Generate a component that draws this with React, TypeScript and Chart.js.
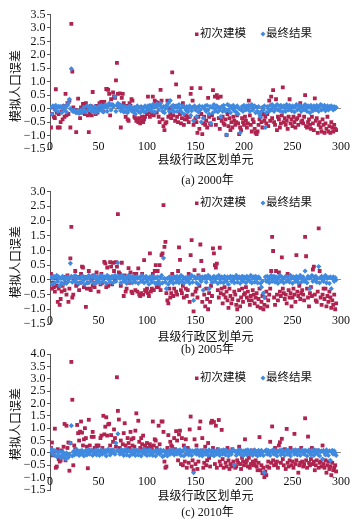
import React, { useEffect, useRef } from 'react';
import { Chart, registerables } from 'chart.js';
Chart.register(...registerables);

const xTicks = [0, 50, 100, 150, 200, 250, 300];
const seriesNames = ['初次建模', '最终结果'];
const yTitle = '模拟人口误差';
const xTitle = '县级行政区划单元';
const captions = ['(a) 2000年', '(b) 2005年', '(c) 2010年'];

// Panel (a) 2000
const initialA = [
  -0.7, -0.2, 0.05, -0.3, -0.35, 0.72, -0.15, -0.7, -0.2, -0.7,
  -0.5, -0.1, -0.4, 0.1, -0.3, 0.55, -0.25, 0.2, -0.2, 0.3,
  -0.7, 3.15, 1.38, 0.05, -0.1, -0.05, -0.87, -0.15, 0.37, -0.1,
  -0.35, 0.05, -0.15, 0.18, 0.15, -0.2, 0.2, -0.05, -0.25, -0.87,
  -0.2, 0.1, -0.25, 0.62, 0.05, -0.1, -0.2, 0.1, -0.15, 0.0,
  0.2, 0.05, 0.25, 0.2, -0.1, 0.25, 0.1, 0.73, 0.72, 0.7,
  0.55, -0.25, 0.35, 0.15, 0.6, 0.45, 0.4, 1.05, 1.7, 0.55,
  0.05, 0.57, -0.7, 0.4, 0.55, 0.2, -0.1, -0.3, 0.1, -0.4,
  -0.45, 0.2, 0.1, 0.35, 0.3, -0.1, -0.3, -0.35, -0.45, -0.4,
  -0.5, -0.35, -0.55, -0.45, -0.3, -0.5, -0.4, -0.3, 0.05, -0.2,
  0.45, -0.15, -0.3, 0.1, -0.2, 0.45, -0.25, 0.3, 0.25, -0.15,
  0.22, -0.3, -0.5, 0.7, 0.3, -0.4, -0.65, -0.8, -0.55, -0.5,
  0.3, -0.3, 0.0, -0.2, -0.35, 1.35, -0.25, 0.1, -0.45, 0.9,
  -0.3, -0.5, 0.45, -0.2, -0.55, -0.35, 0.2, -0.6, -0.4, -0.25,
  -0.4, -0.3, -0.5, -0.3, 0.55, 0.76, 0.3, -0.6, -0.45, -0.35,
  -0.5, -0.9, -0.3, -0.75, 0.76, -0.2, -0.95, -0.55, -0.3, -0.6,
  -0.45, -0.7, 0.4, -0.3, -0.55, -0.6, -0.25, 0.69, -0.4, 0.45,
  -0.6, 0.5, 0.4, -0.35, -0.75, 0.45, -0.45, -0.3, -0.55, -0.6,
  -0.4, -0.98, -0.2, -0.65, -0.35, -0.8, -0.5, -0.7, -0.3, -0.45,
  -0.6, -0.5, -0.25, -0.55, -0.95, -0.7, -0.8, -0.35, -0.5, -0.6,
  -0.3, -0.45, -0.7, -0.55, 0.3, -0.25, -0.6, -0.85, -0.4, -0.5,
  -0.75, -0.9, -0.95, -0.85, -0.6, -0.4, -0.3, -0.5, -0.7, -0.2,
  -0.45, -0.3, -0.55, -0.2, -0.65, 0.3, -0.45, 0.45, -0.35, 0.69,
  -0.5, -0.6, 0.35, -0.8, -0.3, -0.4, -0.7, -0.55, -0.25, 0.79,
  -0.5, -0.35, -0.6, -0.45, -0.75, -0.3, 0.35, -0.55, -0.4, -0.65,
  -0.3, -0.5, -0.7, -0.4, -0.35, -0.6, -0.25, 0.2, -0.5, -0.45,
  -0.55, -0.3, 0.5, -0.65, -0.7, -0.5, -0.4, -0.6, -0.75, -0.3,
  -0.55, -0.8, 0.38, -0.45, -0.35, -0.9, -0.6, -0.5, -0.7, -0.85,
  -0.4, -0.6, -0.9, -0.55, -0.75, -0.3, -0.85, -0.65, -0.9, -0.5,
  -0.7, -0.85, -0.6, -0.75, -0.8,
];
const finalA = [
  0.05, -0.2, 0.1, 0.08, -0.05, 0.12, 0.06, -0.1, 0.09, 0.05,
  0.08, -0.15, 0.02, 0.1, -0.05, 0.07, -0.12, 0.12, 0.2, 0.35,
  0.0, 1.48, -0.08, -0.1, -0.05, -0.12, -0.15, -0.08, -0.1, -0.18,
  -0.12, -0.05, -0.15, -0.1, 0.05, -0.08, -0.12, 0.1, 0.08, -0.05,
  0.05, 0.1, -0.1, 0.02, -0.05, 0.08, -0.15, -0.1, 0.05, -0.08,
  0.1, -0.05, 0.12, 0.0, -0.12, 0.08, 0.15, 0.05, -0.1, 0.1,
  0.2, 0.12, -0.05, 0.15, 0.08, 0.1, 0.45, -0.1, 0.12, 0.2,
  0.05, 0.15, -0.08, 0.1, 0.02, -0.12, 0.08, -0.1, 0.05, -0.15,
  -0.05, 0.1, 0.06, -0.08, 0.0, -0.12, 0.05, -0.2, -0.05, 0.1,
  -0.1, 0.05, -0.15, 0.08, -0.05, 0.02, -0.12, 0.1, 0.05, -0.08,
  0.1, -0.05, 0.12, 0.0, -0.1, 0.15, 0.05, -0.12, 0.08, 0.18,
  0.1, -0.05, 0.15, 0.2, 0.05, -0.1, 0.08, -0.15, 0.0, 0.12,
  0.05, 0.2, -0.1, 0.3, 0.08, -0.05, 0.12, -0.12, 0.05, 0.1,
  -0.1, 0.05, 0.15, -0.08, 0.02, -0.15, 0.1, -0.2, 0.05, -0.05,
  0.08, -0.12, 0.0, 0.1, -0.25, -0.08, 0.05, -0.45, 0.1, -0.05,
  -0.3, 0.05, -0.12, 0.1, -0.05, -0.5, 0.08, -0.35, 0.0, 0.1,
  -0.1, 0.12, -0.05, -0.2, 0.08, -0.55, 0.05, -0.15, 0.15, 0.0,
  -0.08, 0.1, -0.12, 0.05, -0.05, -0.3, 0.08, -0.1, 0.12, 0.0,
  -0.1, -0.98, 0.15, -0.05, 0.1, -0.15, 0.08, 0.0, 0.12, -0.08,
  0.05, -0.12, 0.1, -0.2, 0.0, -0.9, -0.05, 0.08, -0.1, 0.12,
  0.05, -0.05, 0.1, 0.0, 0.12, -0.1, 0.08, 0.15, -0.05, 0.02,
  0.1, -0.15, 0.05, -0.1, 0.08, -0.2, -0.3, -0.1, 0.05, -0.05,
  0.1, -0.7, -0.15, 0.08, 0.0, -0.1, 0.12, -0.05, 0.15, 0.05,
  -0.1, 0.08, 0.0, 0.15, -0.05, 0.1, -0.08, 0.12, 0.05, -0.12,
  0.1, 0.02, -0.1, 0.15, 0.05, -0.05, 0.12, 0.0, -0.08, 0.1,
  0.05, -0.12, 0.08, 0.15, -0.05, 0.1, 0.0, 0.12, -0.1, 0.05,
  0.08, -0.05, 0.15, 0.02, -0.1, 0.1, 0.05, -0.15, 0.12, 0.0,
  -0.08, 0.1, 0.05, -0.05, 0.12, 0.02, -0.1, 0.08, 0.15, -0.05,
  0.1, 0.0, 0.12, -0.08, 0.05, 0.1, -0.05, 0.08, 0.02, 0.1,
  0.05, -0.05, 0.08, 0.0, 0.05,
];

// Panel (b) 2005
const initialB = [
  0.2, -0.3, -0.1, -0.25, -0.4, 0.05, -0.2, -0.75, -0.3, -0.85,
  -0.65, -0.4, -0.2, 0.1, -0.35, -0.1, -0.5, 0.15, -0.75, -0.3,
  0.73, 1.8, -0.6, -0.5, 0.05, 0.3, -0.2, -0.15, 0.1, -0.35,
  -0.1, 0.2, 0.45, 0.42, -0.25, 0.1, -0.92, -0.3, -0.1, 0.3,
  -0.3, -0.35, 0.0, -0.2, 0.15, -0.25, -0.1, 0.25, -0.05, -0.4,
  0.1, -0.15, 0.2, -0.1, 0.05, 0.61, 0.56, -0.25, 0.42, -0.2,
  0.1, 0.6, 0.45, -0.15, 0.58, 0.3, 0.0, 0.6, 0.45, 2.23,
  0.25, 0.2, -0.2, 0.58, 0.1, -0.55, 0.15, -0.4, -0.3, 0.05,
  0.4, -0.1, 0.25, -0.4, -0.45, 0.1, 0.2, -0.35, 0.2, -0.4,
  0.39, -0.5, -0.55, -0.45, 0.2, -0.5, 0.67, -0.35, -0.4, -0.3,
  -0.45, -0.55, 0.9, -0.4, -0.3, 0.2, -0.35, 0.3, 0.5, -0.25,
  0.3, -0.25, 0.5, -0.35, 0.84, 0.9, 2.54, 1.12, 1.29, -0.45,
  -0.7, -0.8, -0.3, -0.6, -0.45, 0.2, -0.55, -0.3, 0.1, -0.4,
  -0.5, 0.3, 1.1, 0.68, -0.35, -0.45, -0.2, -0.6, 0.05, -0.3,
  -0.55, -0.35, 0.2, -0.75, 0.84, 1.35, -0.5, -1.07, 0.33, -0.4,
  -0.3, -0.6, 0.15, -0.2, 1.2, 0.64, -0.75, 0.33, -0.5, -0.9,
  -0.3, -0.65, -1.0, -0.45, -0.75, -0.2, -0.55, 1.07, 0.9, 0.5,
  0.42, 0.55, -0.35, -0.6, 1.09, -0.45, -0.3, -0.8, -0.5, -0.25,
  -0.6, -0.4, -0.7, -0.95, -0.3, -0.55, -0.8, -0.65, 0.1, -0.4,
  -0.5, -0.85, -1.0, -0.7, -0.35, -0.9, -0.6, -0.3, -0.75, -0.5,
  -0.45, -0.25, -0.6, -0.4, -0.7, -0.85, -0.55, -0.7, -0.35, -0.5,
  -0.8, -0.6, -0.45, -0.9, -0.65, -0.3, -0.95, -0.75, -0.55, -1.0,
  -0.85, -0.6, -0.4, -0.9, -0.7, -0.5, -0.3, 0.3, 1.46, 0.98,
  -0.6, -0.85, 0.3, -0.5, -0.7, 0.25, -0.4, -0.55, 0.76, -0.3,
  -0.45, -0.65, -0.5, -0.8, 0.2, -0.35, -0.6, -0.45, -0.9, -0.6,
  -0.3, -0.5, -0.75, 0.84, -0.4, -0.55, -0.2, -0.65, -0.45, -0.35,
  -0.5, -0.7, 1.46, 0.8, -0.3, -0.6, -0.9, -0.45, -0.25, -0.55,
  0.35, 0.45, -0.5, -0.7, -0.75, -0.4, 1.75, 0.3, -0.6, -0.85,
  -0.5, -0.3, -0.65, -0.3, -0.9, -0.55, -0.75, -0.4, -0.6, -0.95,
  -0.7, -0.85, -0.5, -1.0, -0.8,
];
const finalB = [
  0.1, -0.15, 0.05, 0.12, -0.1, 0.08, 0.15, -0.05, 0.1, -0.2,
  0.05, -0.1, 0.12, -0.15, 0.0, 0.08, -0.12, 0.1, -0.05, 0.05,
  0.56, 0.12, -0.08, 0.1, -0.05, 0.15, 0.02, -0.1, 0.08, -0.12,
  0.05, 0.1, -0.08, 0.12, 0.0, -0.15, 0.08, 0.05, -0.1, 0.15,
  0.1, -0.05, 0.12, 0.08, -0.12, 0.15, 0.05, -0.08, 0.1, 0.0,
  0.12, -0.1, 0.15, 0.05, -0.05, 0.1, 0.08, -0.12, 0.15, 0.02,
  0.1, -0.08, 0.05, 0.12, -0.1, 0.08, 0.15, -0.05, 0.1, 0.58,
  0.12, 0.05, -0.1, 0.15, 0.08, -0.05, 0.1, 0.0, -0.12, 0.08,
  0.15, -0.05, 0.1, 0.05, -0.1, 0.12, 0.0, -0.08, 0.1, 0.05,
  -0.12, 0.08, 0.1, -0.05, 0.15, 0.02, -0.1, 0.08, 0.12, -0.05,
  0.05, -0.15, 0.1, 0.0, -0.08, 0.12, 0.05, -0.1, 0.08, -0.12,
  0.1, -0.05, -0.15, 0.08, 0.15, -0.1, 0.74, 0.05, -0.08, -0.3,
  0.05, -0.15, 0.1, -0.05, 0.08, 0.0, -0.12, 0.1, 0.05, -0.08,
  0.12, 0.0, -0.1, 0.08, 0.15, -0.05, 0.1, -0.12, 0.05, 0.08,
  -0.05, 0.1, 0.0, -0.12, 0.08, 0.15, -0.08, -0.7, 0.1, 0.05,
  -0.1, 0.08, -0.15, 0.12, 0.0, -0.05, 0.1, -0.35, 0.05, 0.12,
  -0.08, 0.05, 0.15, -0.3, 0.1, 0.0, -0.1, 0.08, 0.12, -0.05,
  0.05, 0.1, -0.12, 0.15, 0.02, -0.08, 0.1, 0.05, -0.1, 0.12,
  0.0, -0.05, 0.1, -0.15, 0.08, 0.12, -0.05, 0.1, 0.0, -0.1,
  0.08, 0.15, -0.08, 0.05, 0.1, -0.12, 0.02, 0.12, -0.05, 0.1,
  0.05, -0.1, 0.12, 0.0, 0.08, -0.05, 0.15, -0.1, 0.05, 0.1,
  -0.08, 0.12, 0.02, -0.1, 0.1, 0.05, -0.12, -0.25, -0.05, -0.45,
  -0.6, 0.1, -0.05, 0.12, 0.0, -0.1, 0.08, 0.15, -0.05, 0.05,
  0.12, -0.08, 0.1, 0.0, -0.12, 0.08, 0.15, -0.05, 0.1, 0.02,
  -0.1, 0.08, 0.12, -0.05, 0.1, 0.0, -0.08, 0.15, 0.05, -0.12,
  0.1, 0.05, -0.05, 0.12, 0.0, -0.1, 0.08, 0.15, -0.08, 0.05,
  0.1, -0.05, 0.3, 0.02, -0.1, 0.12, 0.05, -0.3, 0.08, 0.15,
  -0.05, 0.1, 0.0, 0.12, -0.08, 0.05, 0.45, -0.1, 0.08, 0.12,
  0.0, -0.05, 0.1, 0.15, -0.1, 0.05, 0.08, -0.12, 0.1, -0.3,
  0.05, 0.1, -0.05, 0.08, 0.0,
];

// Panel (c) 2010
const initialC = [
  0.2, 0.42, -0.1, 0.05, 0.98, -0.6, -0.55, 0.15, -0.25, -0.35,
  -0.3, 0.1, -0.15, 0.25, 1.17, -0.3, 1.1, 0.2, 0.42, -0.72,
  0.4, 3.68, 2.15, -0.5, 0.3, 0.15, 0.05, 1.13, 0.8, 0.5,
  0.86, 1.27, 0.82, 0.3, 0.55, 1.0, 0.6, 0.25, -0.62, 1.34,
  0.3, 0.1, 0.65, 0.85, 0.65, 0.2, 0.15, 0.3, 0.28, 0.3,
  0.05, 0.6, 0.7, 0.2, 1.5, 0.75, 1.06, 1.44, 0.7, 1.15,
  1.18, 0.3, 0.72, 0.1, 0.45, 0.95, 0.6, 0.25, 3.06, 1.7,
  1.35, 0.2, 0.5, 0.1, 0.35, 0.8, 1.2, 0.3, 0.15, 0.6,
  0.4, 0.2, 0.85, 0.55, 0.3, 0.6, 0.25, 0.9, 1.6, 0.1,
  1.3, 0.45, 0.2, 0.6, 0.35, 0.7, 0.15, 0.3, 0.05, 0.4,
  0.2, 0.1, 0.35, 0.25, 0.15, 1.27, 0.3, 0.55, 0.5, 0.2,
  0.1, 1.1, 0.35, 0.05, 1.27, 1.27, 0.85, -0.35, -0.6, -0.55,
  0.2, 0.72, 0.1, 0.45, 0.3, 0.25, 0.05, 0.6, 0.15, 0.88,
  0.5, -0.3, 0.75, 0.9, -0.45, 0.6, -0.5, 0.3, -0.35, 0.55,
  -0.6, 0.2, -0.4, 0.95, 1.47, -0.55, -0.3, -0.7, 0.55, -0.45,
  0.3, -0.65, -0.35, 1.0, 1.27, 0.1, 0.6, -0.6, -0.4, 0.25,
  -0.5, -0.3, 0.4, -0.2, -0.55, 1.22, 1.3, 0.2, 1.25, -0.45,
  1.1, -0.6, 0.15, 1.33, -0.35, -0.5, 0.93, -0.25, -0.6, 0.1,
  -0.4, -0.55, 0.2, -0.3, -0.65, -0.45, -0.55, 0.15, -0.35, -0.5,
  -0.6, -0.55, -0.3, -0.4, 0.25, -0.45, -0.65, -0.2, -0.35, -0.5,
  0.55, -0.4, -0.3, -0.55, -0.2, -0.6, -0.45, 0.1, -0.35, -0.5,
  -0.45, -0.3, -0.55, -0.7, -0.4, 0.64, -0.7, -0.5, -0.82, -0.6,
  -0.98, -0.75, -0.9, -0.55, -0.35, -0.6, 0.45, -0.4, 1.07, -0.3,
  -0.5, 0.2, -0.45, -0.35, -0.6, 0.3, 0.43, -0.4, 0.57, -0.25,
  -0.5, 0.15, -0.65, 0.97, -0.4, -0.55, -0.3, 0.2, -0.5, -0.35,
  -0.6, 0.77, -0.45, -0.3, 0.1, -0.8, -0.5, -0.4, 0.2, -0.35,
  -0.55, -0.45, 1.4, -0.3, -0.6, 0.66, -0.4, -0.5, -0.25, 0.2,
  -0.45, -0.35, -0.7, -0.5, -0.3, 0.1, -0.6, -0.4, -0.35, -0.55,
  0.3, -0.45, -0.6, -0.3, -0.8, -0.5, -0.35, -0.65, -0.55, -0.9,
  -0.4, -0.7, -0.6, -0.5, -0.75,
];
const finalC = [
  0.15, 0.05, -0.05, 0.1, -0.1, 0.08, -0.15, 0.02, -0.12, 0.05,
  -0.2, -0.1, 0.05, -0.15, -0.05, -0.25, 0.0, -0.1, -0.18, -0.05,
  0.39, 1.1, -0.12, 0.05, -0.08, 0.1, -0.05, 0.12, 0.0, -0.1,
  0.08, -0.05, 0.1, 0.02, -0.12, 0.05, 0.1, -0.08, 0.0, 0.12,
  -0.05, 0.08, 0.1, -0.1, 0.05, 0.0, 0.12, -0.08, 0.05, 0.1,
  -0.1, 0.05, 0.12, -0.05, 0.08, 0.0, 0.1, -0.12, 0.05, 0.15,
  0.05, -0.08, 0.1, 0.02, 0.12, 0.0, -0.05, 0.4, 0.1, 0.77,
  0.08, -0.05, 0.12, 0.0, 0.1, -0.1, 0.05, 0.15, -0.08, 0.05,
  0.1, -0.12, 0.05, 0.08, -0.05, 0.12, 0.0, -0.1, 0.1, 0.05,
  -0.08, 0.1, 0.05, -0.12, 0.08, 0.0, 0.12, -0.05, 0.1, -0.1,
  0.05, 0.12, -0.08, 0.1, 0.0, -0.1, 0.08, 0.05, -0.12, 0.1,
  0.0, 0.08, -0.05, 0.12, 0.05, -0.15, 0.1, -0.1, 0.05, 0.0,
  -0.12, 0.08, 0.05, -0.05, 0.1, 0.0, 0.12, -0.08, 0.05, 0.1,
  -0.05, 0.1, 0.0, 0.12, -0.1, 0.05, 0.08, -0.12, 0.2, -0.05,
  0.1, 0.0, -0.08, 0.12, 0.05, -0.1, 0.08, -0.8, 0.0, 0.1,
  -0.05, 0.12, 0.05, -0.1, 0.08, 0.0, -0.12, 0.1, 0.05, -0.05,
  0.1, 0.02, -0.1, 0.12, 0.05, -0.08, 0.1, 0.0, -0.12, 0.08,
  0.05, -0.05, 0.12, 0.0, -0.1, 0.08, 0.1, -0.05, 0.12, 0.0,
  -0.08, 0.1, 0.05, -0.12, 0.08, 0.0, -0.05, 0.1, 0.12, -0.5,
  0.05, -0.1, 0.08, 0.0, 0.12, -0.05, 0.1, 0.05, -0.12, 0.08,
  0.0, 0.1, -0.08, 0.12, 0.05, -0.05, 0.1, 0.0, -0.1, 0.08,
  0.12, -0.05, 0.05, -0.12, 0.1, 0.0, -0.08, 0.1, 0.05, -0.1,
  -0.8, 0.08, 0.12, -0.05, 0.1, 0.0, -0.1, 0.08, 0.05, 0.12,
  -0.05, 0.1, 0.0, -0.12, 0.08, 0.05, 0.1, -0.08, 0.12, 0.0,
  0.05, -0.1, 0.08, 0.12, -0.05, 0.1, 0.0, -0.12, 0.05, 0.08,
  0.1, -0.05, 0.12, 0.0, -0.08, 0.1, 0.05, -0.1, 0.08, 0.12,
  0.0, -0.05, 0.1, 0.08, -0.12, 0.05, 0.12, 0.0, -0.08, 0.1,
  0.05, -0.1, 0.12, 0.0, 0.08, -0.05, 0.1, -0.12, 0.05, 0.08,
  -0.25, 0.1, 0.0, -0.08, 0.12, 0.05, -0.1, 0.08, -0.3, 0.05,
  0.1, -0.05, 0.08, 0.0, -0.1,
];

const RED = '#B0234F';
const BLUE = '#3F8AE0';
const FONT = '"Liberation Serif", "Noto Sans CJK SC", serif';

type PanelCfg = {
  initial: number[];
  final: number[];
  caption: string;
  top: number;
  height: number;
  yMin: number;
  yMax: number;
  padTop: number;
  padBottom: number;
  xLabelY: number;
  xTitleY: number;
  captionY: number;
  legendY: number;
  yTitleY: number;
};

const panels: PanelCfg[] = [
  { initial: initialA, final: finalA, caption: captions[0], top: 0, height: 190, yMin: -1.5, yMax: 3.5,
    padTop: 14.5, padBottom: 41, xLabelY: 147, xTitleY: 161, captionY: 181, legendY: 34, yTitleY: 86 },
  { initial: initialB, final: finalB, caption: captions[1], top: 180, height: 180, yMin: -1.5, yMax: 3.0,
    padTop: 11.5, padBottom: 36, xLabelY: 141, xTitleY: 158, captionY: 170, legendY: 23, yTitleY: 82 },
  { initial: initialC, final: finalC, caption: captions[2], top: 345, height: 179, yMin: -1.5, yMax: 4.0,
    padTop: 9, padBottom: 34, xLabelY: 137, xTitleY: 152, captionY: 168, legendY: 33, yTitleY: 79 },
];

function fmt(v: number): string {
  const s = Math.abs(v).toFixed(1);
  return v < -1e-9 ? '\u2212' + s : s;
}

function Panel({ cfg }: { cfg: PanelCfg }) {
  const ref = useRef<HTMLCanvasElement | null>(null);
  useEffect(() => {
    if (!ref.current) return;
    const toPts = (arr: number[]) => arr.map((v, i) => ({ x: i + 1, y: v }));
    const deco = {
      id: 'deco',
      afterDraw(chart: any) {
        const ctx = chart.ctx as CanvasRenderingContext2D;
        const xs = chart.scales.x;
        const area = chart.chartArea;
        ctx.save();
        ctx.fillStyle = '#111';
        ctx.textAlign = 'center';
        ctx.textBaseline = 'middle';
        ctx.font = `12px ${FONT}`;
        xTicks.forEach((t) => ctx.fillText(String(t), xs.getPixelForValue(t), cfg.xLabelY));
        const cx = (area.left + area.right) / 2 + 10;
        ctx.fillText(xTitle, cx, cfg.xTitleY);
        ctx.fillText(cfg.caption, cx + 2, cfg.captionY);
        ctx.save();
        ctx.translate(17, cfg.yTitleY);
        ctx.rotate(-Math.PI / 2);
        ctx.fillText(yTitle, 0, 0);
        ctx.restore();
        // legend
        ctx.font = `11.5px ${FONT}`;
        ctx.textAlign = 'left';
        const ly = cfg.legendY;
        ctx.fillStyle = RED;
        ctx.fillRect(195, ly - 1.5, 3.5, 3.5);
        ctx.fillStyle = '#111';
        ctx.fillText(seriesNames[0], 200, ly);
        ctx.fillStyle = BLUE;
        ctx.beginPath();
        ctx.moveTo(263, ly - 2.5);
        ctx.lineTo(265.5, ly);
        ctx.lineTo(263, ly + 2.5);
        ctx.lineTo(260.5, ly);
        ctx.closePath();
        ctx.fill();
        ctx.fillStyle = '#111';
        ctx.fillText(seriesNames[1], 266, ly);
        ctx.restore();
      },
    };
    const chart = new Chart(ref.current, {
      type: 'scatter',
      data: {
        datasets: [
          { label: seriesNames[0], data: toPts(cfg.initial), backgroundColor: RED, borderColor: RED,
            pointStyle: 'rect', pointRadius: 2.7, borderWidth: 0, order: 1 } as any,
          { label: seriesNames[1], data: toPts(cfg.final), backgroundColor: BLUE, borderColor: BLUE,
            pointStyle: 'rectRot', pointRadius: 2.6, borderWidth: 0, order: 0 } as any,
        ],
      },
      options: {
        responsive: false,
        animation: false,
        events: [],
        layout: { padding: { top: cfg.padTop, bottom: cfg.padBottom, left: 0, right: 19 } },
        plugins: { legend: { display: false }, tooltip: { enabled: false }, title: { display: false } },
        scales: {
          x: { type: 'linear', min: 0, max: 300, display: false },
          y: {
            type: 'linear',
            min: cfg.yMin,
            max: cfg.yMax,
            afterFit: (s: any) => { s.width = 50; },
            ticks: {
              stepSize: 0.5,
              autoSkip: false,
              color: '#111',
              padding: 1.5,
              font: { family: FONT, size: 12 },
              callback: (v: any) => fmt(Number(v)),
            },
            grid: {
              color: (c: any) => (c.tick && Math.abs(c.tick.value) < 1e-9 ? '#8a8a8a' : 'rgba(0,0,0,0)'),
              tickColor: '#555',
              tickLength: 3,
              drawTicks: true,
              lineWidth: 1,
            },
            border: { display: true, color: '#555', width: 1 },
          },
        },
      } as any,
      plugins: [deco],
    });
    return () => chart.destroy();
  }, [cfg]);
  return (
    <canvas
      ref={ref}
      width={360}
      height={cfg.height}
      style={{ position: 'absolute', left: 0, top: cfg.top, width: 360, height: cfg.height }}
    />
  );
}

export default function App() {
  return (
    <div style={{ position: 'absolute', left: 0, top: 0, width: 360, height: 524, background: '#fff' }}>
      {panels.map((p, i) => (
        <Panel key={i} cfg={p} />
      ))}
    </div>
  );
}
